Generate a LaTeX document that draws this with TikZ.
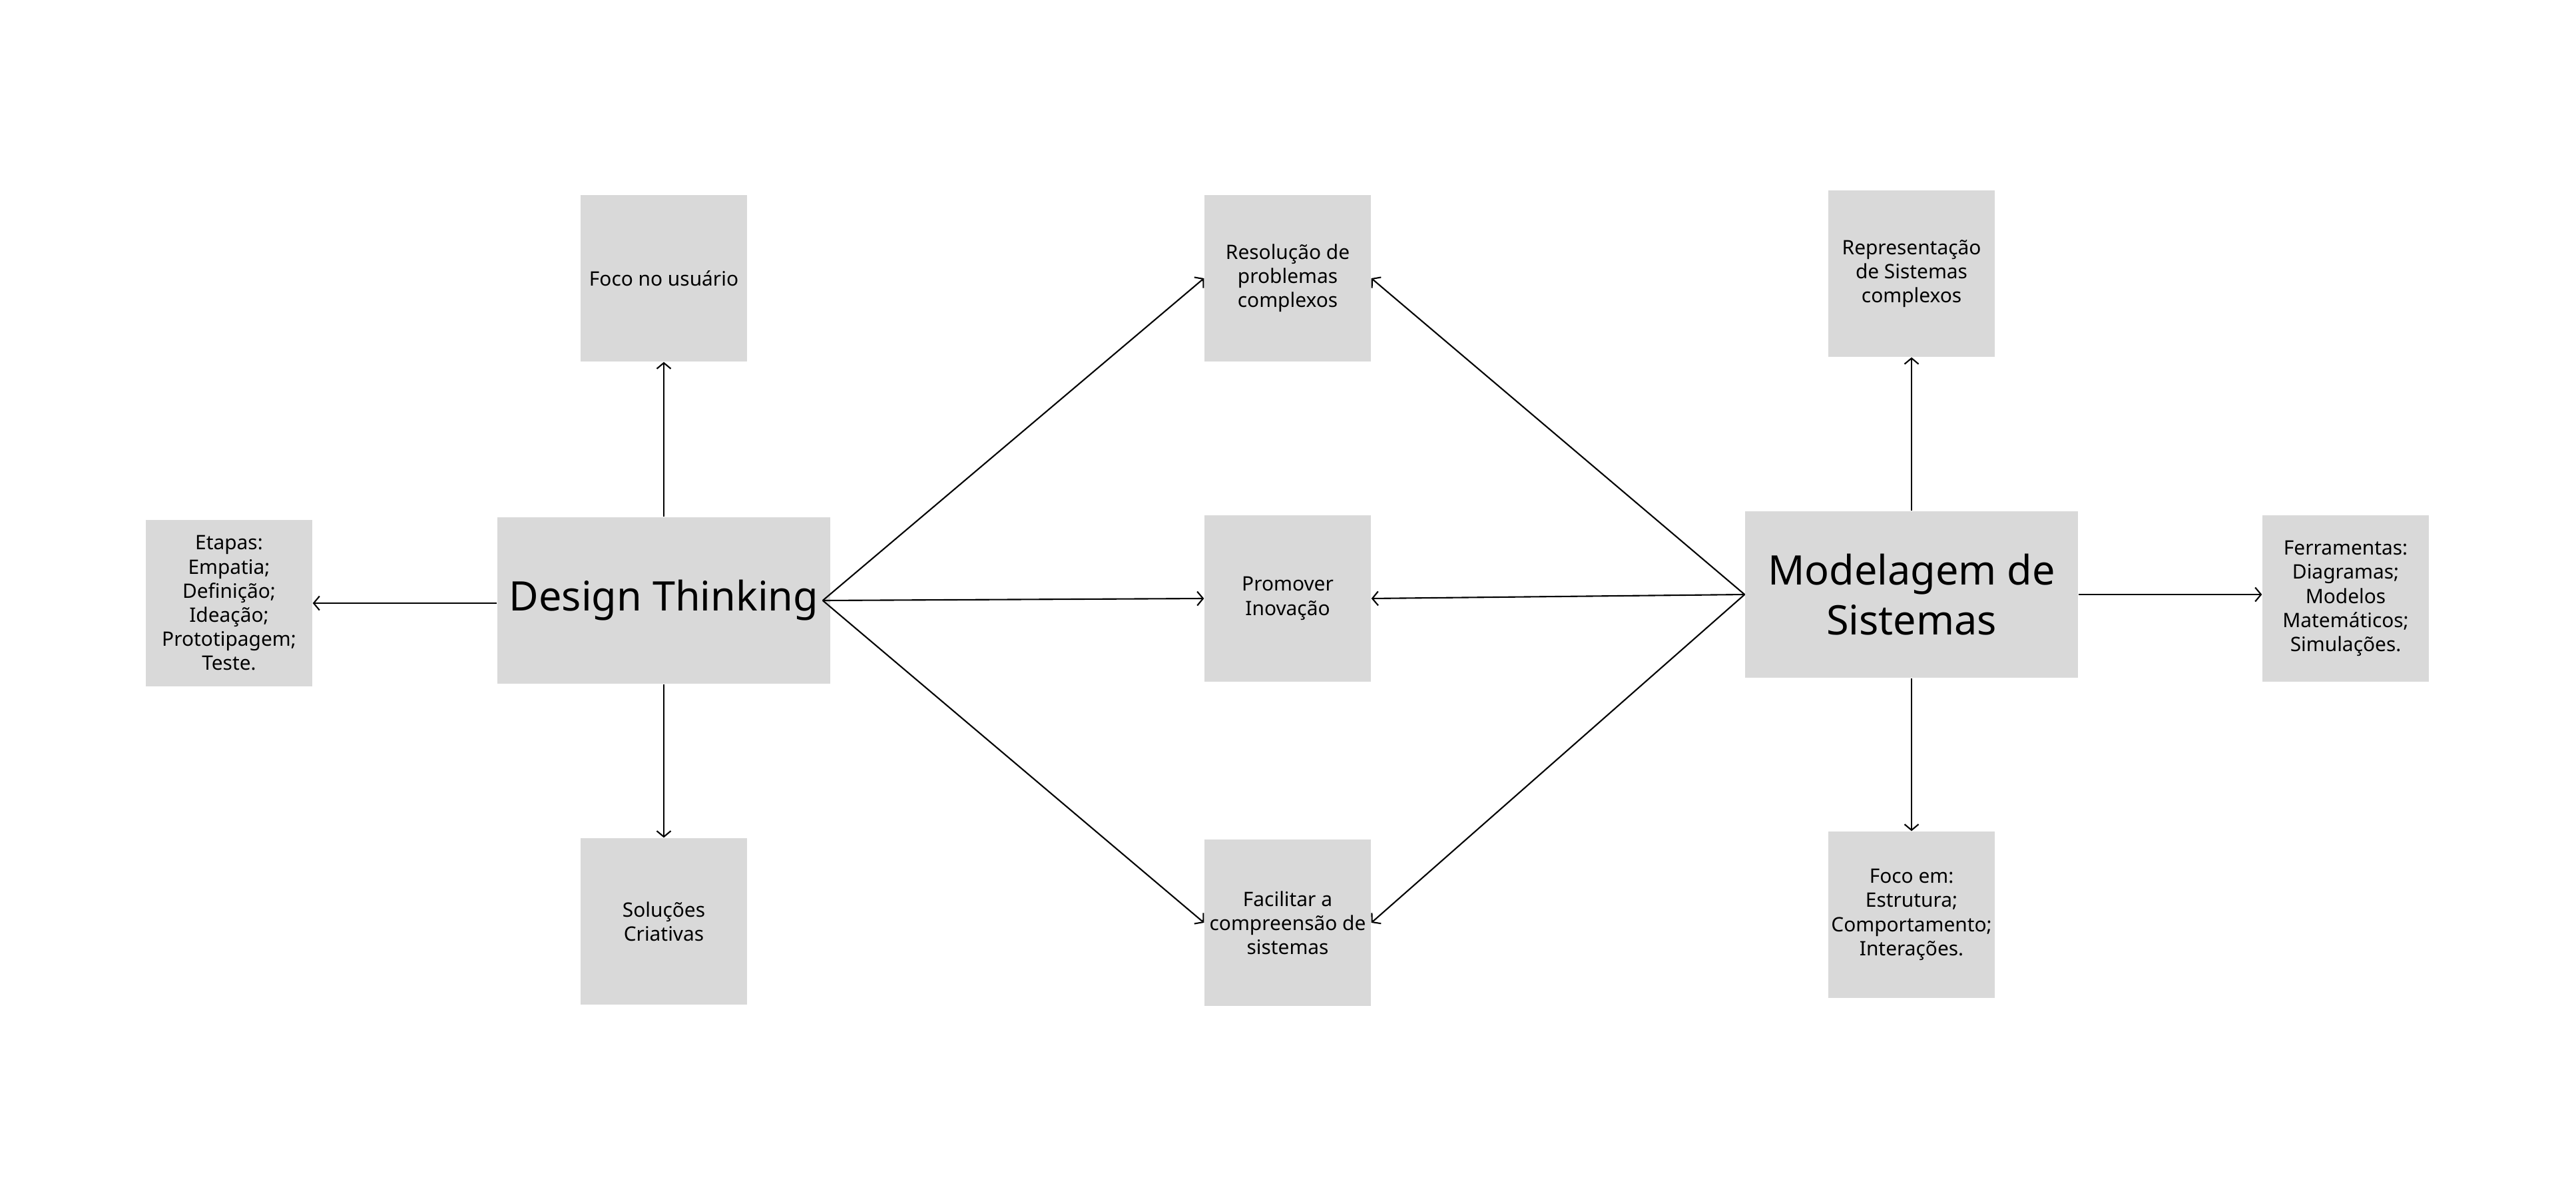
\documentclass[tikz,border=0pt]{standalone}
\usepackage{fontspec}
\setmainfont{Noto Sans}
\usepackage{xcolor}
\usetikzlibrary{arrows.meta}
\definecolor{boxgray}{RGB}{217,217,217}

\begin{document}
\begin{tikzpicture}[
                every node/.append style = {align = center, inner sep = 0pt},
                smallbox/.style = {fill = boxgray, minimum width = 2.5cm, minimum height = 2.5cm, font = \fontsize{8.5}{10.3}\selectfont},
                bigbox/.style = {fill = boxgray, minimum width = 5cm, minimum height = 2.5cm, font = \fontsize{17.4}{21.5}\selectfont},
                link/.style = {line width = 0.6pt, -{Straight Barb[length = 2.5pt, width = 6pt]}}]
            \useasboundingbox (0,0) rectangle (38.69,18);
            \node[bigbox] (dt) at (9.97,8.98) {Design Thinking};
            \node[smallbox] (focouser) at (9.97,13.82) {Foco no usuário};
            \node[smallbox] (solucoes) at (9.97,4.16) {Soluções\\Criativas};
            \node[smallbox] (etapas) at (3.44,8.94) {Etapas:\\Empatia;\\Definição;\\Ideação;\\Prototipagem;\\Teste.};
            \node[smallbox] (resolucao) at (19.34,13.82) {Resolução de\\problemas\\complexos};
            \node[smallbox] (promover) at (19.34,9.01) {Promover\\Inovação};
            \node[smallbox] (facilitar) at (19.34,4.14) {Facilitar a\\compreensão de\\sistemas};
            \node[bigbox] (ms) at (28.71,9.07) {Modelagem de\\Sistemas};
            \node[smallbox] (repres) at (28.71,13.89) {Representação\\de Sistemas\\complexos};
            \node[smallbox] (ferram) at (35.23,9.01) {Ferramentas:\\Diagramas;\\Modelos\\Matemáticos;\\Simulações.};
            \node[smallbox] (focoem) at (28.71,4.26) {Foco em:\\Estrutura;\\Comportamento;\\Interações.};
            \draw[link] (dt.north) -- (focouser.south);
            \draw[link] (dt.south) -- (solucoes.north);
            \draw[link] ([yshift=-0.04cm]dt.west) -- ([yshift=-0.04cm]dt.west -| etapas.east);
            \foreach \target in {resolucao,promover,facilitar}
                \draw[link] ([xshift=-0.12cm]dt.east) -- (\target.west);
            \foreach \target in {resolucao,promover,facilitar}
                \draw[link] (ms.west) -- (\target.east);
            \draw[link] (ms.north) -- (repres.south);
            \draw[link] (ms.south) -- (focoem.north);
            \draw[link] (ms.east) -- (ms.east -| ferram.west);
            \end{tikzpicture}
\end{document}
